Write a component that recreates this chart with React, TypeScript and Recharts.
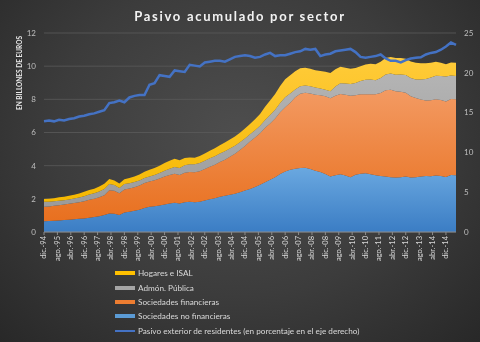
import { ComposedChart, Area, Line, XAxis, YAxis, CartesianGrid } from "recharts";

// trimestral, de dic.-94 a jun.-15 (billones de euros)
const noFinancieras = [
  0.65, 0.66, 0.68, 0.7, 0.72, 0.74, 0.77, 0.8, 0.82, 0.86,
  0.9, 0.95, 1.02, 1.12, 1.1, 1.03, 1.18, 1.22, 1.28, 1.34,
  1.45, 1.52, 1.56, 1.6, 1.66, 1.72, 1.76, 1.72, 1.8, 1.82,
  1.8, 1.82, 1.9, 1.98, 2.04, 2.12, 2.18, 2.24, 2.3, 2.4,
  2.5, 2.6, 2.72, 2.85, 3.0, 3.15, 3.3, 3.5, 3.65, 3.75,
  3.82, 3.86, 3.88, 3.8, 3.7, 3.62, 3.5, 3.35, 3.42, 3.48,
  3.4, 3.3, 3.45, 3.52, 3.55, 3.48, 3.42, 3.38, 3.35, 3.3,
  3.28, 3.3, 3.34, 3.28, 3.3, 3.34, 3.38, 3.36, 3.4, 3.38,
  3.32, 3.44, 3.42,
];

const financieras = [
  0.87, 0.88, 0.9, 0.92, 0.94, 0.96, 0.98, 1.0, 1.04, 1.08,
  1.1, 1.14, 1.2, 1.4, 1.38, 1.3, 1.38, 1.4, 1.42, 1.46,
  1.5, 1.52, 1.56, 1.62, 1.68, 1.72, 1.76, 1.72, 1.78, 1.8,
  1.8, 1.84, 1.9, 1.96, 2.02, 2.1, 2.18, 2.3, 2.42, 2.55,
  2.68, 2.85, 2.98, 3.1, 3.28, 3.4, 3.55, 3.72, 3.88, 4.05,
  4.3, 4.48, 4.52, 4.55, 4.58, 4.62, 4.68, 4.72, 4.8, 4.84,
  4.88, 4.92, 4.8, 4.78, 4.75, 4.82, 4.88, 5.0, 5.2, 5.28,
  5.2, 5.15, 5.05, 4.9, 4.78, 4.65, 4.55, 4.58, 4.6, 4.58,
  4.55, 4.58, 4.58,
];

const admPublica = [
  0.3, 0.28, 0.27, 0.27, 0.26, 0.26, 0.27, 0.28, 0.3, 0.32,
  0.33, 0.35, 0.38, 0.38, 0.36, 0.32, 0.33, 0.32, 0.32, 0.31,
  0.31, 0.31, 0.32, 0.34, 0.36, 0.38, 0.4, 0.42, 0.44, 0.46,
  0.48, 0.5, 0.5, 0.5, 0.51, 0.51, 0.51, 0.5, 0.48, 0.46,
  0.46, 0.45, 0.44, 0.45, 0.48, 0.5, 0.52, 0.56, 0.6, 0.55,
  0.48, 0.45, 0.44, 0.44, 0.44, 0.42, 0.4, 0.42, 0.55, 0.65,
  0.68, 0.7, 0.74, 0.8, 0.88, 0.9, 0.85, 0.9, 0.95, 0.98,
  1.0, 1.04, 1.08, 1.1, 1.12, 1.2, 1.3, 1.37, 1.42, 1.45,
  1.5, 1.42, 1.4,
];

const hogares = [
  0.17, 0.18, 0.19, 0.2, 0.21, 0.22, 0.23, 0.24, 0.26, 0.27,
  0.28, 0.3, 0.31, 0.3, 0.26, 0.27, 0.29, 0.31, 0.33, 0.36,
  0.38, 0.4, 0.42, 0.44, 0.46, 0.48, 0.5, 0.46, 0.44, 0.42,
  0.4, 0.42, 0.44, 0.46, 0.48, 0.5, 0.52, 0.54, 0.56, 0.58,
  0.6, 0.62, 0.66, 0.72, 0.8, 0.88, 0.95, 1.02, 1.08, 1.1,
  1.1, 1.08, 1.06, 1.05, 1.03, 1.05, 1.08, 1.1, 1.05, 1.0,
  0.95, 0.92, 0.9, 0.9, 0.92, 0.94, 0.96, 0.98, 1.0, 1.0,
  1.02, 1.0, 0.98, 1.0, 1.0, 0.98, 0.95, 0.9, 0.85, 0.8,
  0.75, 0.78, 0.8,
];

// % (eje derecho)
const pasivoExterior = [
  13.9, 14.0, 13.9, 14.1, 14.0, 14.2, 14.3, 14.5, 14.6, 14.8,
  14.9, 15.1, 15.3, 16.2, 16.3, 16.5, 16.3, 16.9, 17.1, 17.2,
  17.2, 18.5, 18.7, 19.7, 19.6, 19.5, 20.3, 20.2, 20.1, 21.0,
  20.9, 20.8, 21.3, 21.4, 21.5, 21.5, 21.4, 21.7, 22.0, 22.1,
  22.2, 22.1, 21.9, 22.0, 22.3, 22.5, 22.1, 22.2, 22.2, 22.4,
  22.6, 22.7, 23.0, 22.9, 23.0, 22.1, 22.3, 22.4, 22.7, 22.8,
  22.9, 23.0, 22.6, 22.0, 21.9, 22.0, 22.1, 22.3, 21.8, 21.5,
  21.5, 21.3, 21.6, 21.8, 21.9, 21.95, 22.3, 22.5, 22.6, 22.9,
  23.3, 23.8, 23.5,
];

// etiquetas del eje X, cada 8 meses
const etiquetasX = [
  "dic.-94", "ago.-95", "abr.-96", "dic.-96", "ago.-97", "abr.-98", "dic.-98",
  "ago.-99", "abr.-00", "dic.-00", "ago.-01", "abr.-02", "dic.-02", "ago.-03",
  "abr.-04", "dic.-04", "ago.-05", "abr.-06", "dic.-06", "ago.-07", "abr.-08",
  "dic.-08", "ago.-09", "abr.-10", "dic.-10", "ago.-11", "abr.-12", "dic.-12",
  "ago.-13", "abr.-14", "dic.-14",
];

const ticksIzq = [0, 2, 4, 6, 8, 10, 12];
const ticksDer = [0, 5, 10, 15, 20, 25];

const leyenda = [
  { nombre: "Hogares e ISAL", color: "#FFC000", grosor: 4 },
  { nombre: "Admón. Pública", color: "#A5A5A5", grosor: 4 },
  { nombre: "Sociedades financieras", color: "#ED7D31", grosor: 4 },
  { nombre: "Sociedades no financieras", color: "#5B9BD5", grosor: 4 },
  { nombre: "Pasivo exterior de residentes (en porcentaje en el eje derecho)", color: "#4472C4", grosor: 2 },
];

const FONT = "Lato, 'Open Sans', sans-serif";

const data = noFinancieras.map((v, i) => ({
  mes: i * 3,
  noFinancieras: v,
  financieras: financieras[i],
  admPublica: admPublica[i],
  hogares: hogares[i],
  pasivoExterior: pasivoExterior[i],
}));

const TickX = ({ x, y, payload }: any) => {
  const i = Math.round(payload.value / 8);
  return (
    <g transform={`translate(${x},${y})`}>
      <text transform="rotate(-90)" textAnchor="end" dy="0.33em" fontSize={7.5} fill="#d9d9d9" fontFamily={FONT}>
        {etiquetasX[i]}
      </text>
    </g>
  );
};

export default function App() {
  return (
    <div
      style={{
        position: "fixed",
        left: 0,
        top: 0,
        width: 480,
        height: 342,
        background: "radial-gradient(ellipse at 50% 40%, #4e4e4e 0%, #3c3c3c 55%, #282828 100%)",
        fontFamily: FONT,
        overflow: "hidden",
      }}
    >
      <div
        style={{
          position: "absolute",
          top: 6,
          width: 480,
          textAlign: "center",
          color: "#f2f2f2",
          fontSize: 13,
          fontWeight: 700,
          letterSpacing: 1.7,
          lineHeight: "20px",
        }}
      >
        Pasivo acumulado por sector
      </div>
      <div
        style={{
          position: "absolute",
          left: 19,
          top: 73,
          transform: "translate(-50%, -50%) rotate(-90deg)",
          color: "#e6e6e6",
          fontSize: 6.5,
          fontWeight: 700,
          whiteSpace: "nowrap",
        }}
      >
        EN BILLONES DE EUROS
      </div>

      <ComposedChart width={480} height={342} data={data} margin={{ top: 33, right: 0, bottom: 75, left: 0 }}>
        <defs>
          <linearGradient id="gAzul" x1="0" y1="0" x2="0" y2="1">
            <stop offset="0%" stopColor="#6aa8e0" />
            <stop offset="100%" stopColor="#3b7dc4" />
          </linearGradient>
          <linearGradient id="gNaranja" x1="0" y1="0" x2="0" y2="1">
            <stop offset="0%" stopColor="#f39a62" />
            <stop offset="100%" stopColor="#e8701f" />
          </linearGradient>
          <linearGradient id="gGris" x1="0" y1="0" x2="0" y2="1">
            <stop offset="0%" stopColor="#b4b4b4" />
            <stop offset="100%" stopColor="#9b9b9b" />
          </linearGradient>
          <linearGradient id="gAmarillo" x1="0" y1="0" x2="0" y2="1">
            <stop offset="0%" stopColor="#ffcb3a" />
            <stop offset="100%" stopColor="#f5b800" />
          </linearGradient>
        </defs>
        <CartesianGrid yAxisId="izq" vertical={false} stroke="#5a5a5a" strokeWidth={0.8} />
        <XAxis
          dataKey="mes"
          type="number"
          domain={[0, 246]}
          ticks={etiquetasX.map((_, i) => i * 8)}
          interval={0}
          height={35}
          tick={<TickX />}
          tickSize={3}
          tickMargin={1}
          stroke="#8c8c8c"
          axisLine={{ stroke: "#8c8c8c" }}
          tickLine={{ stroke: "#8c8c8c" }}
        />
        <YAxis
          yAxisId="izq"
          domain={[0, 12]}
          ticks={ticksIzq}
          width={44}
          axisLine={false}
          tickLine={false}
          tick={{ fontSize: 8, fill: "#bfbfbf", fontFamily: FONT }}
        />
        <YAxis
          yAxisId="der"
          orientation="right"
          domain={[0, 25]}
          ticks={ticksDer}
          width={24}
          axisLine={false}
          tickLine={false}
          tick={{ fontSize: 8, fill: "#bfbfbf", fontFamily: FONT }}
        />
        <Area yAxisId="izq" type="linear" dataKey="noFinancieras" stackId="s" stroke="none" fill="url(#gAzul)" fillOpacity={1} isAnimationActive={false} />
        <Area yAxisId="izq" type="linear" dataKey="financieras" stackId="s" stroke="none" fill="url(#gNaranja)" fillOpacity={1} isAnimationActive={false} />
        <Area yAxisId="izq" type="linear" dataKey="admPublica" stackId="s" stroke="none" fill="url(#gGris)" fillOpacity={1} isAnimationActive={false} />
        <Area yAxisId="izq" type="linear" dataKey="hogares" stackId="s" stroke="none" fill="url(#gAmarillo)" fillOpacity={1} isAnimationActive={false} />
        <Line yAxisId="der" type="linear" dataKey="pasivoExterior" stroke="#4472C4" strokeWidth={2.5} dot={false} isAnimationActive={false} />
      </ComposedChart>

      <div style={{ position: "absolute", left: 115, top: 266 }}>
        {leyenda.map((l) => (
          <div key={l.nombre} style={{ display: "flex", alignItems: "center", height: 14.4 }}>
            <div style={{ width: 20, height: l.grosor, background: l.color, marginRight: 3 }} />
            <span style={{ fontSize: 8.2, color: "#d9d9d9", whiteSpace: "nowrap" }}>{l.nombre}</span>
          </div>
        ))}
      </div>
    </div>
  );
}
